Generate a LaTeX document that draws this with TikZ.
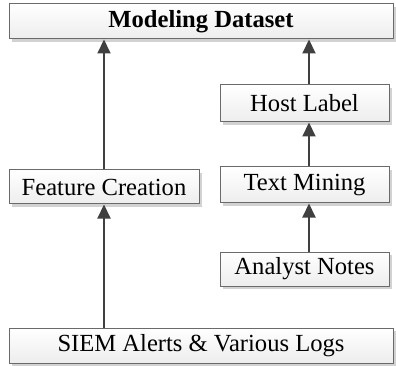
\documentclass[tikz,border=0pt]{standalone}
\usepackage{fontspec}
\setmainfont{Liberation Serif}
\usetikzlibrary{arrows.meta,shadows}
\definecolor{edgec}{HTML}{404040}
\definecolor{boxline}{HTML}{6A6A6A}
\tikzset{
  box/.style={draw=boxline, line width=1pt, top color=white, bottom color=gray!14,
    drop shadow={shadow xshift=3pt, shadow yshift=-3pt, fill=gray!35, opacity=1},
    inner sep=0pt, font=\fontsize{24.6}{28}\selectfont},
  arr/.style={draw=edgec, line width=2pt, -{Triangle[length=14pt,width=13pt]}}
}
\begin{document}
\begin{tikzpicture}[x=1pt,y=1pt]
\useasboundingbox (0,0) rectangle (396,-366);
\node[box, minimum width=384pt, minimum height=35pt] (md) at (201,-21.5) {\textbf{Modeling Dataset}};
\node[box, minimum width=190pt, minimum height=34pt] (fc) at (104,-187) {Feature Creation};
\node[box, minimum width=169pt, minimum height=37pt] (hl) at (304.5,-103.5) {Host Label};
\node[box, minimum width=169pt, minimum height=36pt] (tm) at (304.5,-185) {Text Mining};
\node[box, minimum width=169pt, minimum height=34pt] (an) at (304.5,-269) {Analyst Notes};
\node[box, minimum width=384pt, minimum height=35pt] (siem) at (201,-345.5) {SIEM Alerts \& Various Logs};
\coordinate (rx) at (309,0);
\draw[arr] (siem.north -| fc) -- (fc.south);
\draw[arr] (fc.north) -- (md.south -| fc);
\draw[arr] (an.north -| rx) -- (tm.south -| rx);
\draw[arr] (tm.north -| rx) -- (hl.south -| rx);
\draw[arr] (hl.north -| rx) -- (md.south -| rx);
\end{tikzpicture}
\end{document}
